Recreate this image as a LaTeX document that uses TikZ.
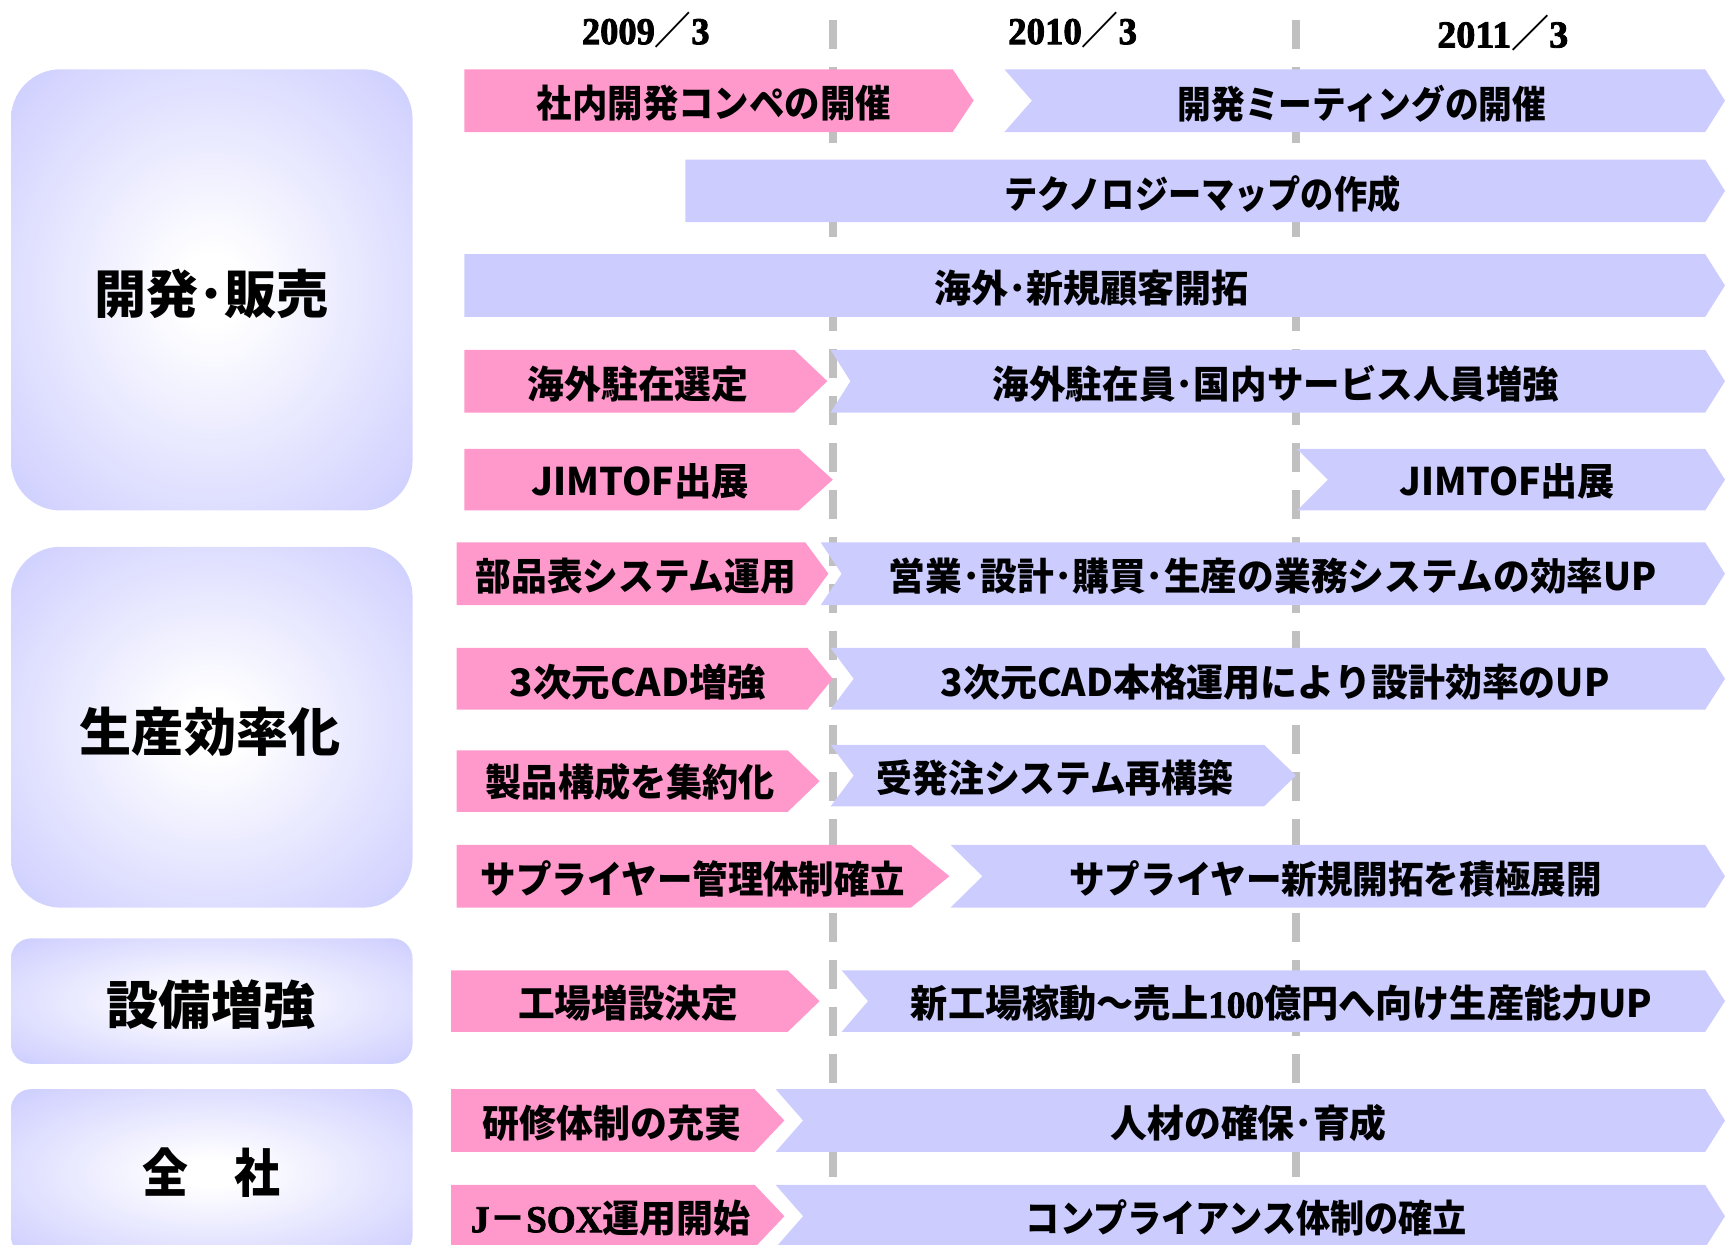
\documentclass[tikz,border=0pt]{standalone}
\usepackage{fontspec}
\usepackage{graphicx}
\setmainfont{Noto Sans CJK JP}
\newfontfamily\timesfont{Liberation Serif}[FakeBold=2.2]
\definecolor{pinkfill}{HTML}{FF99CC}
\definecolor{lavfill}{HTML}{CCCCFF}
\definecolor{dashgray}{HTML}{C0C0C0}
\pgfdeclareradialshading{catshade}{\pgfpointorigin}{color(0bp)=(white); color(4bp)=(white); color(36bp)=(lavfill); color(100bp)=(lavfill)}
\newcommand\fitw[2]{\resizebox{\dimexpr #1pt*11/10\relax}{\height}{#2}}
% #1 style, #2 left x, #3 notch depth, #4 body end x, #5 tip x, #6 top y, #7 bottom y
\newcommand\chevron[7]{%
  \fill[#1] (#2,#6) -- (#4,#6) -- (#5,{(#6+#7)/2}) -- (#4,#7) -- (#2,#7) -- ({#2+#3},{(#6+#7)/2}) -- cycle;}
\tikzset{
  rowtext/.style={font=\bfseries\fontsize{38}{40}\selectfont, inner sep=0pt, text=black},
  cattext/.style={font=\bfseries\fontsize{52}{56}\selectfont, inner sep=0pt, text=black},
  hdrtext/.style={font=\bfseries\fontsize{38}{40}\selectfont, inner sep=0pt, text=black},
  gridline/.style={draw=dashgray, line width=7.5pt, dash pattern=on 28.6pt off 18.4pt},
  pinkarrow/.style={fill=pinkfill},
  bluearrow/.style={fill=lavfill},
  catbox/.style={shading=catshade}
}
\begin{document}
\begin{tikzpicture}[x=1.1pt,y=-1.1pt]
\useasboundingbox (0,0) rectangle (1568,1131);
\clip (0,0) rectangle (1568,1131);

% headers
\node[hdrtext] (h1) at (587,27) {\fitw{116}{{\timesfont 2009}／{\timesfont 3}}};
\node[hdrtext] (h2) at (975,27) {\fitw{117}{{\timesfont 2010}／{\timesfont 3}}};
\node[hdrtext] (h3) at (1366,30) {\fitw{119}{{\timesfont 2011}／{\timesfont 3}}};

% dashed time lines
\coordinate (l1top) at (757,18.5);
\coordinate (l1bot) at (757,1131);
\coordinate (l2top) at (1178,18.5);
\coordinate (l2bot) at (1178,1131);
\draw[gridline] (l1top) -- (l1bot);
\draw[gridline] (l2top) -- (l2bot);

% category boxes
\shade[catbox, rounded corners=49.5pt] (10,63) rectangle (375,464);
\shade[catbox, rounded corners=49.5pt] (10,497) rectangle (375,825);
\shade[catbox, rounded corners=20pt] (10,853) rectangle (375,967);
\shade[catbox, rounded corners=20pt] (10,990) rectangle (375,1142);
\node[cattext] (cat1) at (192,267) {\fitw{213}{開発･販売}};
\node[cattext] (cat2) at (191,665) {\fitw{237}{生産効率化}};
\node[cattext] (cat3) at (192,913) {\fitw{190}{設備増強}};
\node[cattext] (cat4) at (192,1066) {\fitw{125}{全　社}};

% row 1
\chevron{pinkarrow}{422}{0}{866}{885}{63}{120}
\chevron{bluearrow}{913}{25}{1550}{1568}{63}{120}
\node[rowtext] (r1p) at (649,94) {\fitw{322}{社内開発コンペの開催}};
\node[rowtext] (r1b) at (1238,94) {\fitw{335}{開発ミーティングの開催}};
% row 2
\chevron{bluearrow}{623}{0}{1550}{1568}{145}{202}
\node[rowtext] (r2b) at (1093,176) {\fitw{360}{テクノロジーマップの作成}};
% row 3
\chevron{bluearrow}{422}{0}{1550}{1568}{231}{288}
\node[rowtext] (r3b) at (992,262) {\fitw{286}{海外･新規顧客開拓}};
% row 4
\chevron{pinkarrow}{422}{0}{722}{752}{318}{375}
\chevron{bluearrow}{755}{18}{1550}{1568}{318}{375}
\node[rowtext] (r4p) at (580,349) {\fitw{201}{海外駐在選定}};
\node[rowtext] (r4b) at (1160,349) {\fitw{515}{海外駐在員･国内サービス人員増強}};
% row 5
\chevron{pinkarrow}{422}{0}{726}{757}{408}{464}
\chevron{bluearrow}{1179}{28}{1550}{1568}{408}{464}
\node[rowtext] (r5p) at (582,438) {\fitw{198}{JIMTOF出展}};
\node[rowtext] (r5b) at (1370,438) {\fitw{196}{JIMTOF出展}};
% row 6
\chevron{pinkarrow}{415}{0}{732}{753}{493}{550}
\chevron{bluearrow}{746}{19}{1550}{1568}{493}{550}
\node[rowtext] (r6p) at (578,524) {\fitw{291}{部品表システム運用}};
\node[rowtext] (r6b) at (1157,524) {\fitw{698}{営業･設計･購買･生産の業務システムの効率UP}};
% row 7
\chevron{pinkarrow}{415}{0}{734}{757}{589}{645}
\chevron{bluearrow}{755}{21}{1550}{1568}{589}{645}
\node[rowtext] (r7p) at (580,620) {\fitw{233}{3次元CAD増強}};
\node[rowtext] (r7b) at (1159,620) {\fitw{608}{3次元CAD本格運用により設計効率のUP}};
% row 8
\chevron{pinkarrow}{415}{0}{716}{745}{682}{738}
\chevron{bluearrow}{755}{21}{1149}{1178}{677}{733}
\node[rowtext] (r8p) at (573,711) {\fitw{263}{製品構成を集約化}};
\node[rowtext] (r8b) at (959,707) {\fitw{324}{受発注システム再構築}};
% row 9
\chevron{pinkarrow}{415}{0}{828}{863}{768}{825}
\chevron{bluearrow}{864}{29}{1550}{1568}{768}{825}
\node[rowtext] (r9p) at (630,799) {\fitw{386}{サプライヤー管理体制確立}};
\node[rowtext] (r9b) at (1214,799) {\fitw{484}{サプライヤー新規開拓を積極展開}};
% row 10
\chevron{pinkarrow}{410}{0}{716}{745}{882}{938}
\chevron{bluearrow}{765}{24}{1550}{1568}{882}{938}
\node[rowtext] (r10p) at (571,912) {\fitw{200}{工場増設決定}};
\node[rowtext] (r10b) at (1165,912) {\fitw{674}{新工場稼動～売上{\timesfont 100}億円へ向け生産能力UP}};
% row 11
\chevron{pinkarrow}{410}{0}{686}{713}{990}{1047}
\chevron{bluearrow}{705}{25}{1550}{1568}{990}{1047}
\node[rowtext] (r11p) at (556,1021) {\fitw{235}{研修体制の充実}};
\node[rowtext] (r11b) at (1135,1021) {\fitw{251}{人材の確保･育成}};
% row 12
\chevron{pinkarrow}{410}{0}{686}{713}{1077}{1134}
\chevron{bluearrow}{705}{25}{1550}{1568}{1077}{1134}
\node[rowtext] (r12p) at (555,1107) {\fitw{254}{{\timesfont J}－{\timesfont SOX}運用開始}};
\node[rowtext] (r12b) at (1133,1107) {\fitw{401}{コンプライアンス体制の確立}};
\end{tikzpicture}
\end{document}
